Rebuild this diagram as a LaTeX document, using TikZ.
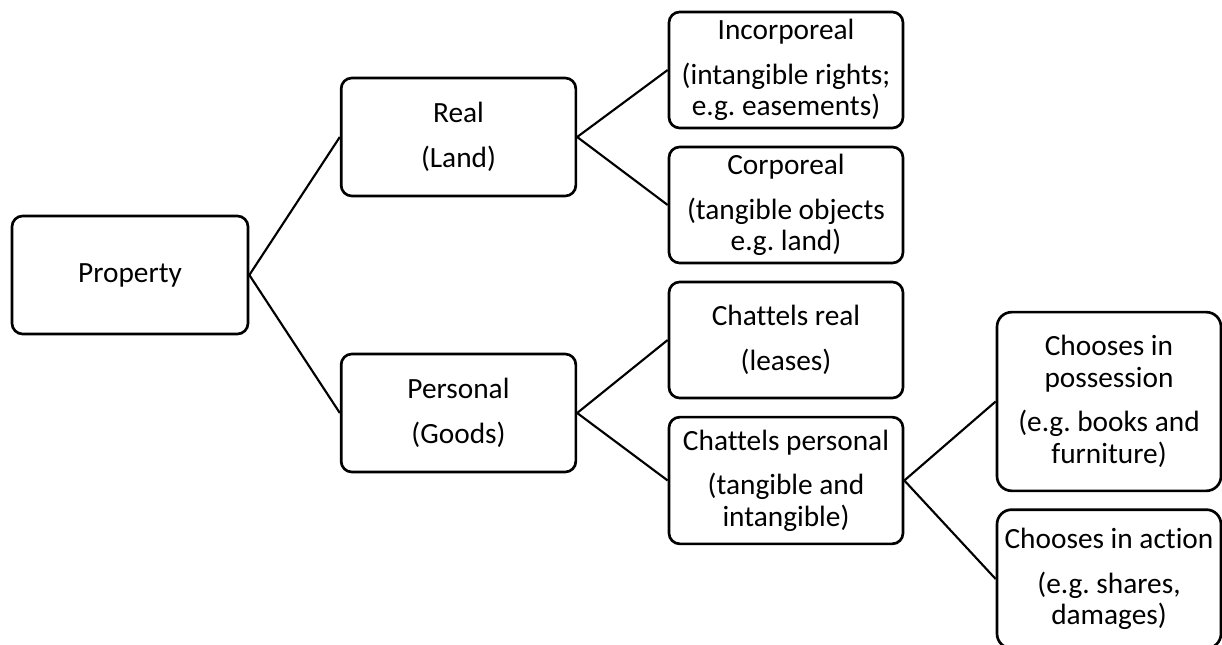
\documentclass[tikz,border=0pt]{standalone}
\usepackage{fontspec}
\setmainfont{Carlito}[Ligatures=NoCommon]
\usetikzlibrary{positioning}
\definecolor{mainBlack}{gray}{0}
\frenchspacing

\tikzset{
  lawBox/.style={draw=mainBlack, line width=2pt, rounded corners=8pt,
    align=center, inner sep=2pt, text=mainBlack,
    font=\fontsize{22}{23.5}\selectfont},
  branchLine/.style={draw=mainBlack, line width=1.6pt},
}

\begin{document}
\begin{tikzpicture}[x=0.75pt, y=-0.75pt]
  \useasboundingbox (0,0) rectangle (1222,645);

  % first level
  \node[lawBox, minimum width=177pt, minimum height=88.5pt] (property) at (130,275) {Property};

  % second level
  \node[lawBox, minimum width=176pt, minimum height=88.5pt] (real) at (458.5,137) {Real\\[10pt](Land)};
  \node[lawBox, minimum width=176pt, minimum height=88.5pt] (personal) at (458.5,413) {Personal\\[10pt](Goods)};

  % third level
  \node[lawBox, minimum width=175.5pt, minimum height=87pt] (incorporeal) at (786,70)
       {Incorporeal\\[10pt](intangible rights;\\e.g. easements)};
  \node[lawBox, minimum width=175.5pt, minimum height=87pt] (corporeal) at (786,205)
       {Corporeal\\[10pt](tangible objects\\e.g. land)};
  \node[lawBox, minimum width=175.5pt, minimum height=87pt] (chattelsReal) at (786,340)
       {Chattels real\\[10pt](leases)};
  \node[lawBox, minimum width=175.5pt, minimum height=95pt] (chattelsPersonal) at (786,480.5)
       {Chattels personal\\[10pt](tangible and\\intangible)};

  % fourth level
  \node[lawBox, rounded corners=11pt, minimum width=168pt, minimum height=134pt] (possession) at (1109,401.5)
       {Chooses in\\possession\\[10pt](e.g. books and\\furniture)};
  \node[lawBox, rounded corners=11pt, minimum width=168pt, minimum height=104pt] (action) at (1109,579)
       {Chooses in action\\[10pt](e.g. shares,\\damages)};

  % branches
  \draw[branchLine] (property.east) -- (real.west);
  \draw[branchLine] (property.east) -- (personal.west);
  \draw[branchLine] (real.east) -- (incorporeal.west);
  \draw[branchLine] (real.east) -- (corporeal.west);
  \draw[branchLine] (personal.east) -- (chattelsReal.west);
  \draw[branchLine] (personal.east) -- (chattelsPersonal.west);
  \draw[branchLine] (chattelsPersonal.east) -- (possession.west);
  \draw[branchLine] (chattelsPersonal.east) -- (action.west);
\end{tikzpicture}
\end{document}
